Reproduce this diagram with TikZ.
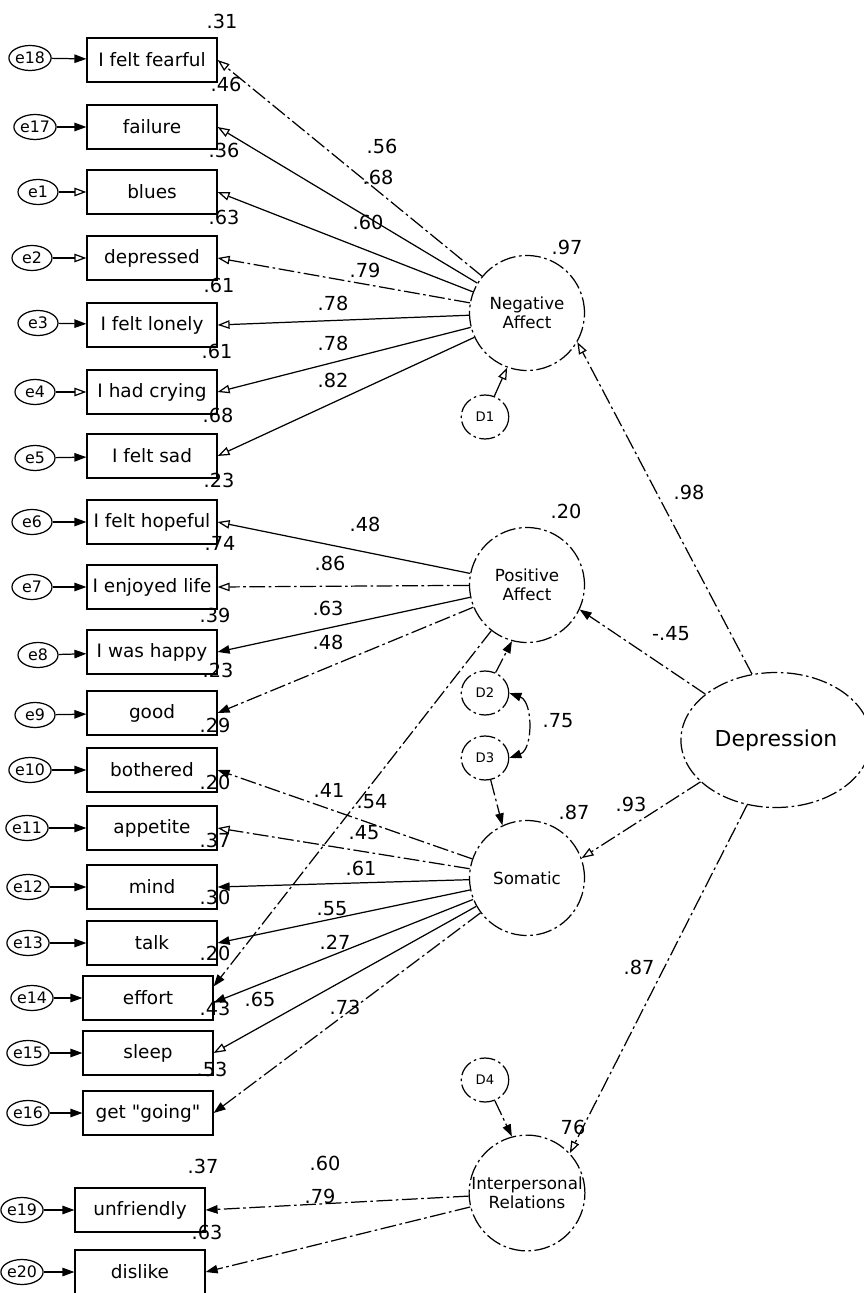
\documentclass[tikz,border=0pt]{standalone}
\usepackage{fontspec}
\setmainfont{DejaVu Sans}[Ligatures=TeXOff]
\usetikzlibrary{arrows.meta, shapes.geometric}

\begin{document}
\begin{tikzpicture}[x=0.02cm, y=-0.02cm, line width=0.7pt,
  obs/.style={draw, rectangle, minimum width=2.6cm, minimum height=0.88cm, inner sep=1pt, font=\fontsize{10.5}{12}\selectfont},
  err/.style={draw, ellipse, minimum width=0.8cm, minimum height=0.5cm, inner sep=0pt, font=\fontsize{9}{10}\selectfont},
  lat/.style={draw, circle, minimum size=2.3cm, inner sep=0pt, align=center, font=\fontsize{9.5}{11}\selectfont, faint},
  dist/.style={draw, ellipse, minimum width=0.95cm, minimum height=0.88cm, inner sep=0pt, font=\fontsize{7.5}{9}\selectfont, faint},
  num/.style={inner sep=0pt, font=\fontsize{11}{13}\selectfont},
  faint/.style={dash pattern=on 9pt off 2pt on 1.5pt off 2pt},
  hollow/.style={-{Triangle[open, length=2.4mm, width=1.7mm]}},
  filled/.style={-{Triangle[length=2.4mm, width=1.7mm]}}]
\useasboundingbox (0,0) rectangle (863,1293);

\node[obs] at (152,60) (fearful) {I felt fearful};
\node[obs] at (152,127) (failure) {failure};
\node[obs] at (152,192) (blues) {blues};
\node[obs] at (152,258) (depressed) {depressed};
\node[obs] at (152,325) (lonely) {I felt lonely};
\node[obs] at (152,392) (crying) {I had crying};
\node[obs] at (152,456) (sad) {I felt sad};
\node[obs] at (152,522) (hopeful) {I felt hopeful};
\node[obs] at (152,587) (enjoyed) {I enjoyed life};
\node[obs] at (152,652) (happy) {I was happy};
\node[obs] at (152,713) (good) {good};
\node[obs] at (152,770) (bothered) {bothered};
\node[obs] at (152,828) (appetite) {appetite};
\node[obs] at (152,887) (mind) {mind};
\node[obs] at (152,943) (talk) {talk};
\node[obs] at (148,998) (effort) {effort};
\node[obs] at (148,1053) (sleep) {sleep};
\node[obs] at (148,1113) (going) {get "going"};
\node[obs] at (140,1210) (unfriendly) {unfriendly};
\node[obs] at (140,1272) (dislike) {dislike};

\node[err] at (30,58) (e18) {e18};
\node[err] at (35,127) (e17) {e17};
\node[err] at (38,192) (e1) {e1};
\node[err] at (32,258) (e2) {e2};
\node[err] at (38,323) (e3) {e3};
\node[err] at (35,392) (e4) {e4};
\node[err] at (35,458) (e5) {e5};
\node[err] at (32,522) (e6) {e6};
\node[err] at (32,587) (e7) {e7};
\node[err] at (38,655) (e8) {e8};
\node[err] at (35,715) (e9) {e9};
\node[err] at (30,770) (e10) {e10};
\node[err] at (27,828) (e11) {e11};
\node[err] at (28,887) (e12) {e12};
\node[err] at (28,943) (e13) {e13};
\node[err] at (32,998) (e14) {e14};
\node[err] at (28,1053) (e15) {e15};
\node[err] at (28,1113) (e16) {e16};
\node[err] at (22,1210) (e19) {e19};
\node[err] at (22,1272) (e20) {e20};

\node[lat] at (527,313) (neg) {Negative\\Affect};
\node[lat] at (527,585) (pos) {Positive\\Affect};
\node[lat] at (527,878) (som) {Somatic};
\node[lat] at (527,1193) (ip) {Interpersonal\\Relations};
\node[draw, ellipse, faint, minimum width=3.5cm, minimum height=2.7cm, font=\fontsize{12.5}{14}\selectfont] at (776,740) (dep) {Depression};
\node[dist] at (485,417) (d1) {D1};
\node[dist] at (485,693) (d2) {D2};
\node[dist] at (485,758) (d3) {D3};
\node[dist] at (485,1080) (d4) {D4};

\draw (e18) edge[filled] (fearful);
\draw (e17) edge[filled] (failure);
\draw (e1) edge[hollow] (blues);
\draw (e2) edge[hollow] (depressed);
\draw (e3) edge[filled] (lonely);
\draw (e4) edge[hollow] (crying);
\draw (e5) edge[filled] (sad);
\draw (e6) edge[filled] (hopeful);
\draw (e7) edge[filled] (enjoyed);
\draw (e8) edge[filled] (happy);
\draw (e9) edge[filled] (good);
\draw (e10) edge[filled] (bothered);
\draw (e11) edge[filled] (appetite);
\draw (e12) edge[filled] (mind);
\draw (e13) edge[filled] (talk);
\draw (e14) edge[filled] (effort);
\draw (e15) edge[filled] (sleep);
\draw (e16) edge[filled] (going);
\draw (e19) edge[filled] (unfriendly);
\draw (e20) edge[filled] (dislike);

\draw (neg) edge[hollow, faint] (fearful.east);
\draw (neg) edge[hollow] (failure.east);
\draw (neg) edge[hollow] (blues.east);
\draw (neg) edge[hollow, faint] (depressed.east);
\draw (neg) edge[hollow] (lonely.east);
\draw (neg) edge[hollow] (crying.east);
\draw (neg) edge[hollow] (sad.east);
\draw (pos) edge[hollow] (hopeful.east);
\draw (pos) edge[hollow, faint] (enjoyed.east);
\draw (pos) edge[filled] (happy.east);
\draw (pos) edge[filled, faint] (good.east);
\draw (pos) edge[filled, faint] (effort.10);
\draw (som) edge[filled, faint] (bothered.east);
\draw (som) edge[hollow, faint] (appetite.east);
\draw (som) edge[filled] (mind.east);
\draw (som) edge[filled] (talk.east);
\draw (som) edge[filled] (effort.-4);
\draw (som) edge[hollow] (sleep.east);
\draw (som) edge[filled, faint] (going.east);
\draw (ip) edge[filled, faint] (unfriendly.east);
\draw (ip) edge[filled, faint] (dislike.east);

\draw (dep.110) edge[hollow, faint] (neg.-30);
\draw (dep.147) edge[filled, faint] (pos.-25);
\draw (dep.209) edge[hollow, faint] (som.20);
\draw (dep.246) edge[hollow, faint] (ip.43);
\draw (d1) edge[hollow] (neg.250);
\draw (d2) edge[filled, faint] (pos.255);
\draw (d3) edge[filled, faint] (som.115);
\draw (d4) edge[filled, faint] (ip.105);
\draw[{Triangle[length=2.4mm, width=1.7mm]}-{Triangle[length=2.4mm, width=1.7mm]}, faint] (d2.east) to[out=-20, in=20] (d3.east);

\node[num] at (222,21) (r18) {.31};
\node[num] at (226,84) (r17) {.46};
\node[num] at (224,150) (r1) {.36};
\node[num] at (224,217) (r2) {.63};
\node[num] at (219,285) (r3) {.61};
\node[num] at (217,351) (r4) {.61};
\node[num] at (218,415) (r5) {.68};
\node[num] at (219,480) (r6) {.23};
\node[num] at (220,543) (r7) {.74};
\node[num] at (215,615) (r8) {.39};
\node[num] at (218,670) (r9) {.23};
\node[num] at (215,725) (r10) {.29};
\node[num] at (215,782) (r11) {.20};
\node[num] at (215,840) (r12) {.37};
\node[num] at (215,897) (r13) {.30};
\node[num] at (215,953) (r14) {.20};
\node[num] at (215,1008) (r15) {.43};
\node[num] at (212,1069) (r16) {.53};
\node[num] at (203,1166) (r19) {.37};
\node[num] at (207,1232) (r20) {.63};

\node[num] at (382,146) (lfearful) {.56};
\node[num] at (378,177) (lfailure) {.68};
\node[num] at (368,222) (lblues) {.60};
\node[num] at (365,270) (ldepressed) {.79};
\node[num] at (333,303) (llonely) {.78};
\node[num] at (333,343) (lcrying) {.78};
\node[num] at (333,380) (lsad) {.82};
\node[num] at (365,524) (lhopeful) {.48};
\node[num] at (330,563) (lenjoyed) {.86};
\node[num] at (328,608) (lhappy) {.63};
\node[num] at (328,642) (lgood) {.48};
\node[num] at (329,790) (lbothered) {.41};
\node[num] at (372,802) (lcross) {.54};
\node[num] at (364,833) (lappetite) {.45};
\node[num] at (361,868) (lmind) {.61};
\node[num] at (332,909) (ltalk) {.55};
\node[num] at (335,942) (leffort) {.27};
\node[num] at (260,999) (lsleep) {.65};
\node[num] at (345,1007) (lgoing) {.73};
\node[num] at (325,1163) (lunfriendly) {.60};
\node[num] at (320,1196) (ldislike) {.79};

\node[num] at (567,247) (rneg) {.97};
\node[num] at (566,511) (rpos) {.20};
\node[num] at (558,721) (rcov) {.75};
\node[num] at (574,812) (rsom) {.87};
\node[num] at (573,1127) (rip) {76};
\node[num] at (689,492) (lneg) {.98};
\node[num] at (671,634) (lpos) {-.45};
\node[num] at (631,804) (lsom) {.93};
\node[num] at (639,967) (lip) {.87};
\end{tikzpicture}
\end{document}
